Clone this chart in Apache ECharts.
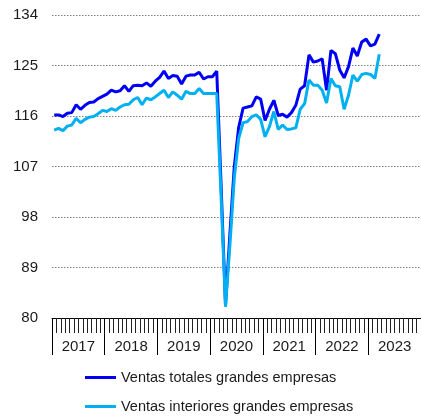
<!DOCTYPE html>
<html>
<head>
<meta charset="utf-8">
<script src="https://cdn.jsdelivr.net/npm/echarts@6/dist/echarts.min.js"></script>
<style>html,body{margin:0;padding:0;background:#fff;}#c{width:421px;height:416px;}</style>
</head>
<body>
<div id="c"></div>
<script>
const years = ['2017','2018','2019','2020','2021','2022','2023'];
const seriesNames = ['Ventas totales grandes empresas','Ventas interiores grandes empresas'];
const yTicks = {min: 80, max: 134, interval: 9};
// Monthly values, Jan 2017 - Mar 2023
const ventasTotales = [
116.2,116.2,115.9,116.5,116.6,118.0,117.2,117.9,118.4,118.5,119.1,119.5,
119.9,120.6,120.3,120.5,121.4,120.4,121.4,121.5,121.4,121.9,121.3,122.2,
122.9,124.0,122.7,123.2,123.1,121.7,123.1,123.3,123.3,123.8,122.6,123.0,
123.0,124.0,103.5,82.3,95.0,107.0,114.0,117.4,117.6,117.8,119.4,119.0,
115.2,117.2,118.8,116.1,116.3,115.8,116.6,117.9,120.8,121.4,126.9,125.6,
125.8,126.2,120.6,127.7,127.1,124.2,122.8,124.8,128.1,126.7,129.2,129.7,
128.5,128.8,130.6];
const ventasInteriores = [
113.5,113.8,113.4,114.2,114.4,115.6,114.8,115.4,115.8,115.9,116.4,117.0,
116.8,117.3,117.0,117.6,118.0,118.1,118.9,119.3,118.0,119.2,118.9,119.4,
120.0,120.6,119.3,120.3,119.7,119.0,120.4,120.0,120.0,120.9,120.0,120.0,
120.0,120.0,101.5,82.0,93.0,105.0,112.0,114.8,115.0,115.9,116.2,115.4,
112.3,114.1,116.8,113.6,114.4,113.6,113.7,113.9,117.2,118.2,122.4,121.5,
121.5,120.6,118.3,122.7,121.4,121.2,117.2,119.7,123.3,122.2,123.4,123.6,
123.4,122.7,127.0];

const months = [];
years.forEach(y => { for (let m = 1; m <= 12; m++) months.push(y + '-' + (m < 10 ? '0' + m : m)); });

const chart = echarts.init(document.getElementById('c'), null, {renderer: 'canvas'});
const font = 'Arial, "Liberation Sans", sans-serif';
const legendBase = {
  orient: 'vertical', left: 85, itemWidth: 31, itemHeight: 14, padding: 0,
  textStyle: {fontFamily: font, fontSize: 14.5, color: '#1a1a1a'}
};
chart.setOption({
  animation: false,
  backgroundColor: '#fff',
  grid: {left: 52, right: -3, top: 15, bottom: 98, containLabel: false},
  legend: [
    Object.assign({}, legendBase, {top: 370, data: [{name: seriesNames[0], icon: 'path://M0,0 L31,0 L31,3 L0,3 Z'}]}),
    Object.assign({}, legendBase, {top: 399, data: [{name: seriesNames[1], icon: 'path://M0,0 L31,0 L31,3 L0,3 Z'}]})
  ],
  xAxis: [{
    type: 'category', data: months, boundaryGap: true, position: 'bottom',
    axisLine: {show: true, lineStyle: {color: '#000', width: 1}},
    axisTick: {show: true, interval: 0, length: 15, lineStyle: {color: '#222', width: 1}},
    axisLabel: {show: false}, splitLine: {show: false}
  }, {
    type: 'category', data: years, boundaryGap: true, position: 'bottom', gridIndex: 0,
    axisLine: {show: false},
    axisTick: {show: true, interval: 0, length: 37, lineStyle: {color: '#000', width: 1}},
    axisLabel: {show: true, interval: 0, margin: 21, fontFamily: font, fontSize: 15, color: '#1a1a1a'},
    splitLine: {show: false}
  }],
  yAxis: {
    type: 'value', min: yTicks.min, max: yTicks.max, interval: yTicks.interval,
    axisLine: {show: false}, axisTick: {show: false},
    axisLabel: {margin: 14, fontFamily: font, fontSize: 15, color: '#1a1a1a'},
    splitLine: {show: true, lineStyle: {color: '#808080', type: [1.5, 1.5], width: 1}}
  },
  series: [{
    name: seriesNames[0], type: 'line', data: ventasTotales, xAxisIndex: 0,
    symbol: 'none', showSymbol: false, lineStyle: {color: '#0000f5', width: 3}, itemStyle: {color: '#0000f5'}, z: 2
  }, {
    name: seriesNames[1], type: 'line', data: ventasInteriores, xAxisIndex: 0,
    symbol: 'none', showSymbol: false, lineStyle: {color: '#00b0f0', width: 3}, itemStyle: {color: '#00b0f0'}, z: 3
  }]
});
</script>
</body>
</html>
